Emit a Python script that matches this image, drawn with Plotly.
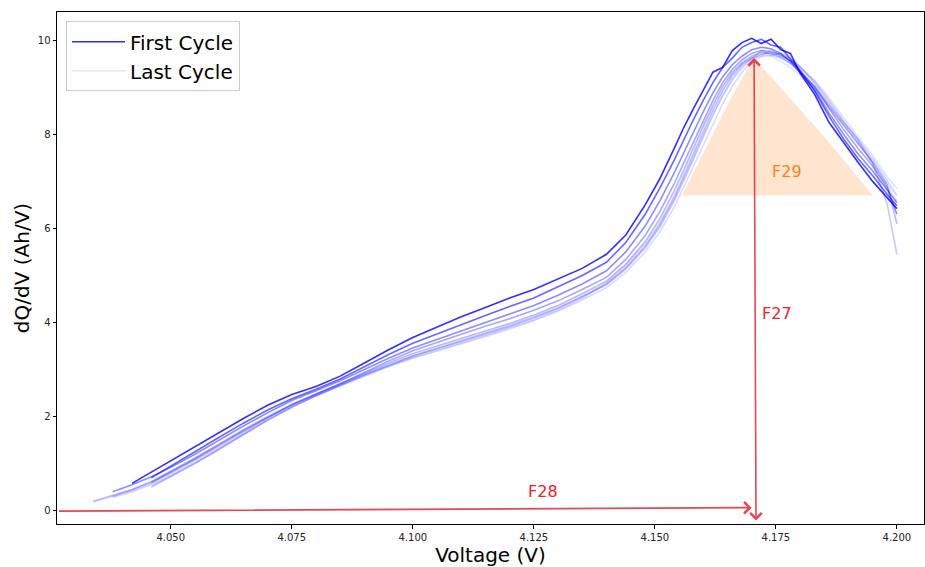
import plotly.graph_objects as go

# Shared voltage grid (V); a cycle is None where it has no data yet
voltage = [4.034, 4.038, 4.042, 4.046, 4.050, 4.055, 4.060, 4.065, 4.070, 4.075,
           4.080, 4.085, 4.090, 4.095, 4.100, 4.105, 4.110, 4.115, 4.120, 4.125,
           4.130, 4.135, 4.140, 4.144, 4.148, 4.151, 4.154, 4.156, 4.158, 4.160,
           4.162, 4.164, 4.166, 4.168, 4.170, 4.172, 4.174, 4.176, 4.178, 4.180,
           4.183, 4.186, 4.189, 4.192, 4.195, 4.198, 4.200]

# dQ/dV (Ah/V) per cycle, first to last
cycle_1 = [None, None, 0.58, 0.82, 1.06, 1.36, 1.66, 1.96, 2.24, 2.47,
           2.64, 2.86, 3.14, 3.42, 3.68, 3.90, 4.12, 4.32, 4.52, 4.70,
           4.92, 5.15, 5.45, 5.86, 6.50, 7.05, 7.70, 8.15, 8.55, 8.92,
           9.32, 9.42, 9.78, 9.95, 10.04, 9.93, 10.02, 9.80, 9.72, 9.30,
           8.85, 8.25, 7.82, 7.40, 7.00, 6.66, 6.42]
cycle_2 = [None, None, None, 0.70, 0.95, 1.25, 1.56, 1.86, 2.14, 2.38,
           2.58, 2.80, 3.06, 3.32, 3.56, 3.76, 3.96, 4.15, 4.34, 4.52,
           4.76, 5.00, 5.28, 5.70, 6.30, 6.85, 7.45, 7.90, 8.32, 8.72,
           9.10, 9.42, 9.62, 9.85, 9.95, 10.02, 9.90, 9.85, 9.60, 9.35,
           8.92, 8.38, 7.90, 7.48, 7.12, 6.72, 6.48]
cycle_3 = [None, 0.40, 0.55, 0.72, 0.92, 1.20, 1.50, 1.80, 2.08, 2.34,
           2.55, 2.76, 3.00, 3.24, 3.46, 3.64, 3.82, 4.00, 4.18, 4.36,
           4.58, 4.82, 5.10, 5.50, 6.05, 6.58, 7.18, 7.62, 8.05, 8.48,
           8.88, 9.22, 9.48, 9.66, 9.80, 9.85, 9.82, 9.72, 9.55, 9.32,
           8.95, 8.45, 8.00, 7.58, 7.22, 6.82, 6.55]
cycle_4 = [None, None, None, 0.60, 0.82, 1.10, 1.40, 1.70, 1.98, 2.25,
           2.48, 2.70, 2.94, 3.18, 3.40, 3.58, 3.75, 3.92, 4.08, 4.26,
           4.46, 4.70, 4.96, 5.34, 5.85, 6.35, 6.95, 7.40, 7.85, 8.30,
           8.72, 9.10, 9.38, 9.58, 9.72, 9.78, 9.76, 9.70, 9.56, 9.36,
           9.00, 8.55, 8.10, 7.70, 7.32, 6.88, 6.30]
cycle_5 = [0.20, 0.32, 0.45, 0.62, 0.84, 1.12, 1.42, 1.72, 2.00, 2.26,
           2.48, 2.70, 2.92, 3.14, 3.34, 3.50, 3.66, 3.82, 3.98, 4.16,
           4.36, 4.61, 4.88, 5.24, 5.72, 6.20, 6.80, 7.25, 7.72, 8.18,
           8.62, 9.02, 9.32, 9.52, 9.66, 9.74, 9.72, 9.64, 9.52, 9.32,
           9.02, 8.58, 8.18, 7.80, 7.42, 6.92, 6.10]
cycle_6 = [None, None, None, 0.50, 0.72, 1.00, 1.30, 1.62, 1.92, 2.20,
           2.44, 2.66, 2.88, 3.08, 3.28, 3.44, 3.60, 3.76, 3.92, 4.10,
           4.30, 4.55, 4.82, 5.16, 5.62, 6.08, 6.65, 7.10, 7.58, 8.05,
           8.50, 8.92, 9.25, 9.48, 9.62, 9.70, 9.74, 9.68, 9.56, 9.42,
           9.12, 8.72, 8.28, 7.88, 7.38, 6.52, 5.45]
cycle_7 = [None, 0.30, 0.44, 0.60, 0.80, 1.08, 1.38, 1.68, 1.97, 2.24,
           2.46, 2.68, 2.90, 3.10, 3.30, 3.46, 3.62, 3.78, 3.94, 4.12,
           4.32, 4.56, 4.80, 5.13, 5.58, 6.02, 6.58, 7.02, 7.48, 7.95,
           8.40, 8.82, 9.18, 9.44, 9.60, 9.78, 9.68, 9.72, 9.62, 9.44,
           9.08, 8.65, 8.25, 7.90, 7.48, 7.02, 6.70]
cycle_8 = [None, None, None, 0.52, 0.73, 1.01, 1.31, 1.62, 1.92, 2.20,
           2.44, 2.65, 2.86, 3.06, 3.24, 3.40, 3.55, 3.70, 3.86, 4.04,
           4.24, 4.48, 4.74, 5.06, 5.50, 5.92, 6.45, 6.88, 7.32, 7.78,
           8.22, 8.65, 9.02, 9.32, 9.55, 9.65, 9.68, 9.62, 9.50, 9.32,
           9.02, 8.62, 8.22, 7.84, 7.38, 6.82, 6.30]
cycle_9 = [None, 0.28, 0.40, 0.55, 0.74, 1.02, 1.32, 1.63, 1.93, 2.21,
           2.45, 2.67, 2.89, 3.09, 3.28, 3.43, 3.58, 3.74, 3.90, 4.08,
           4.28, 4.53, 4.85, 5.21, 5.68, 6.12, 6.70, 7.15, 7.62, 8.10,
           8.55, 8.95, 9.28, 9.50, 9.62, 9.66, 9.80, 9.66, 9.60, 9.45,
           9.15, 8.78, 8.35, 7.95, 7.55, 7.10, 6.85]
cycle_10 = [0.18, 0.30, 0.42, 0.57, 0.77, 1.05, 1.35, 1.66, 1.96, 2.23,
            2.46, 2.67, 2.88, 3.07, 3.25, 3.40, 3.56, 3.72, 3.88, 4.05,
            4.26, 4.51, 4.81, 5.16, 5.62, 6.05, 6.62, 7.05, 7.50, 7.98,
            8.42, 8.82, 9.15, 9.40, 9.58, 9.70, 9.66, 9.55, 9.42, 9.26,
            8.98, 8.60, 8.20, 7.82, 7.40, 6.95, 6.55]
cycle_alpha = [0.82, 0.6, 0.45, 0.35, 0.28, 0.22, 0.18, 0.15, 0.12, 0.10]

# Peak region above the baseline (F29)
fill_voltage = [4.1556, 4.158, 4.162, 4.166, 4.1705, 4.176, 4.182, 4.188, 4.195]
fill_top = [6.70, 7.19, 8.00, 8.82, 9.62, 9.00, 8.30, 7.58, 6.72]
fill_base = 6.70

# Peak position / height (F27) and baseline arrow (F28)
peak_voltage = 4.1705
peak_height = 9.62
arrow_bottom = -0.24
baseline_start = (4.0266, -0.01)
baseline_end = (4.1700, 0.065)

x_range = [4.0265, 4.2056]
y_range = [-0.283, 10.6]
x_ticks = [4.050, 4.075, 4.100, 4.125, 4.150, 4.175, 4.200]
y_ticks = [0, 2, 4, 6, 8, 10]

RED = "rgba(228,30,48,0.82)"
TEXT_RED = "rgb(240,32,40)"
ORANGE = "#ff7f0e"
FONT = "DejaVu Sans"

fig = go.Figure()

# shaded peak area
fig.add_trace(go.Scatter(
    x=fill_voltage + fill_voltage[::-1],
    y=fill_top + [fill_base] * len(fill_voltage),
    fill="toself", fillcolor="rgba(255,127,14,0.2)",
    line=dict(width=0), mode="lines", hoverinfo="skip", showlegend=False))

cycles = [cycle_1, cycle_2, cycle_3, cycle_4, cycle_5,
          cycle_6, cycle_7, cycle_8, cycle_9, cycle_10]
last = len(cycles) - 1
for i, (values, a) in enumerate(zip(cycles, cycle_alpha)):
    name = "First Cycle" if i == 0 else ("Last Cycle" if i == last else f"Cycle {i + 1}")
    fig.add_trace(go.Scatter(
        x=voltage, y=values, mode="lines", name=name,
        line=dict(color=f"rgba(0,0,255,{a})", width=1.6),
        showlegend=(i == 0 or i == last),
        legendrank=1 if i == 0 else 2))

# vertical double-headed arrow (F27)
fig.add_annotation(
    x=peak_voltage, y=peak_height, ax=peak_voltage + 0.0004, ay=arrow_bottom,
    xref="x", yref="y", axref="x", ayref="y", text="",
    showarrow=True, arrowhead=4, startarrowhead=4, arrowside="end+start",
    arrowsize=1.4, startarrowsize=1.4, arrowwidth=1.6, arrowcolor=RED)

# horizontal arrow (F28)
fig.add_annotation(
    x=baseline_end[0], y=baseline_end[1], ax=baseline_start[0], ay=baseline_start[1],
    xref="x", yref="y", axref="x", ayref="y", text="",
    showarrow=True, arrowhead=4, arrowsize=1.4, arrowwidth=1.6, arrowcolor=RED)

fig.add_annotation(x=4.1717, y=4.2, text="F27", showarrow=False, xanchor="left",
                   font=dict(family=FONT, size=16, color=TEXT_RED))
fig.add_annotation(x=4.1269, y=0.40, text="F28", showarrow=False,
                   font=dict(family=FONT, size=16, color=TEXT_RED))
fig.add_annotation(x=4.1772, y=7.2, text="F29", showarrow=False,
                   font=dict(family=FONT, size=16, color=ORANGE))

axis_common = dict(
    showline=True, linecolor="black", linewidth=1, mirror=True,
    ticks="outside", ticklen=3.5, tickwidth=0.8, tickcolor="black",
    showgrid=False, zeroline=False,
    tickfont=dict(family=FONT, size=10, color="#222"),
)

fig.update_layout(
    width=925, height=567,
    margin=dict(l=57, r=1, t=12, b=43),
    paper_bgcolor="white", plot_bgcolor="white",
    font=dict(family=FONT, color="black"),
    xaxis=dict(range=x_range, tickvals=x_ticks, tickformat=".3f",
               title=dict(text="Voltage (V)", font=dict(family=FONT, size=20), standoff=7),
               **axis_common),
    yaxis=dict(range=y_range, tickvals=y_ticks,
               title=dict(text="dQ/dV (Ah/V)", font=dict(family=FONT, size=20), standoff=2),
               **axis_common),
    legend=dict(x=0.0104, y=0.982, xanchor="left", yanchor="top",
                font=dict(family=FONT, size=20), bgcolor="rgba(255,255,255,0.8)",
                bordercolor="#cccccc", borderwidth=1, tracegroupgap=0,
                itemwidth=53),
    showlegend=True,
)

fig.write_html("out.html")
